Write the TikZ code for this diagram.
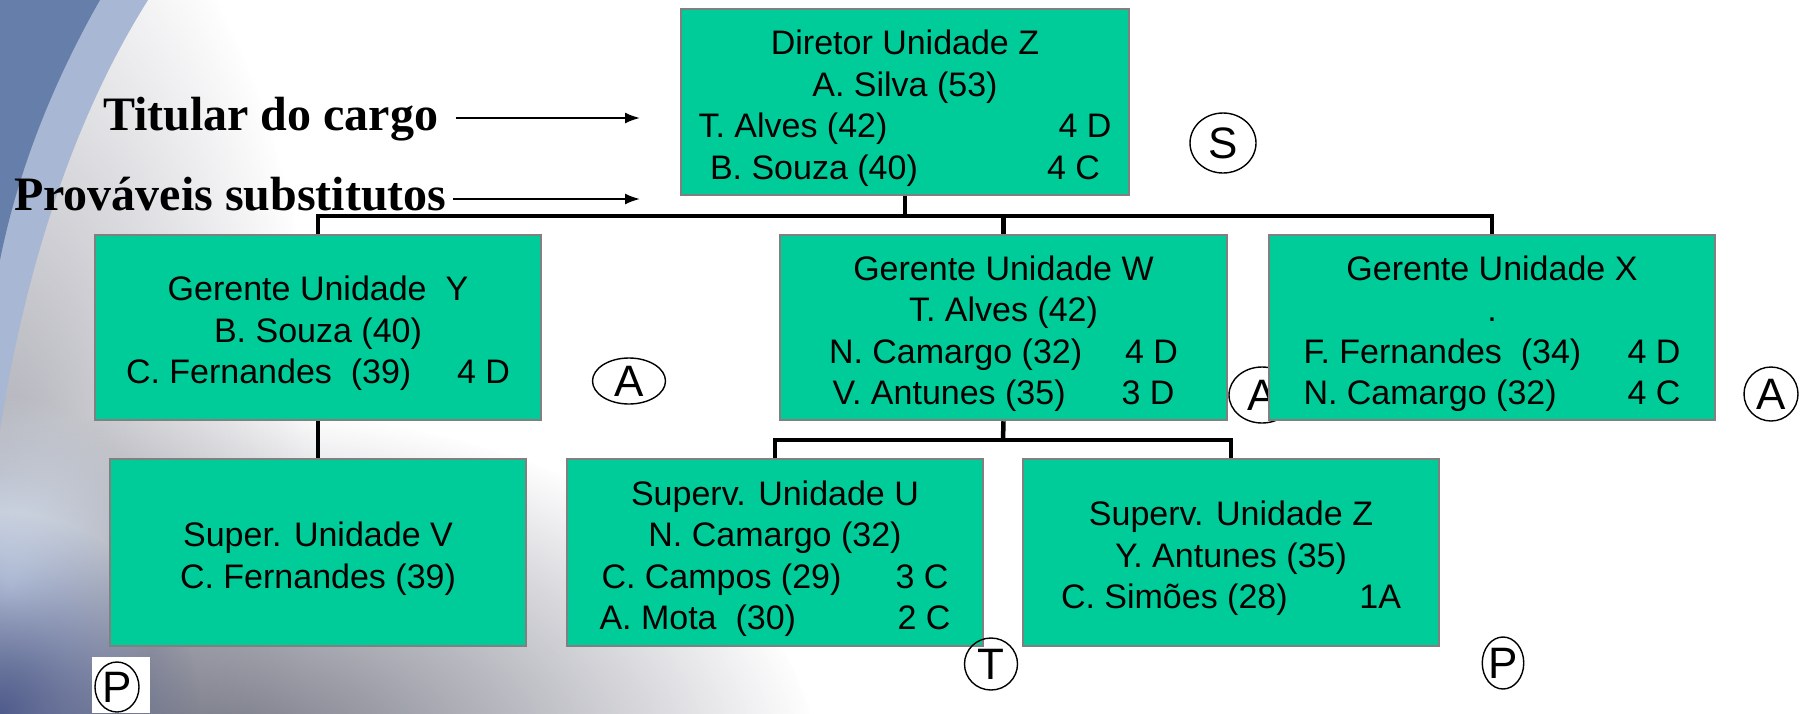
\documentclass[tikz,border=0pt]{standalone}
\usepackage{fontspec}
\setmainfont{Liberation Sans}
\newfontfamily\lblfont{Liberation Serif}
\usetikzlibrary{arrows.meta,shapes.geometric,fadings}
\definecolor{boxgreen}{RGB}{0,204,153}
\definecolor{boxedge}{RGB}{128,128,128}
\definecolor{swdark}{RGB}{102,126,170}
\definecolor{swlight}{RGB}{168,184,212}
\definecolor{bggray}{RGB}{112,114,128}
\definecolor{glow}{RGB}{222,234,250}
\definecolor{cornerblue}{RGB}{80,92,140}
\tikzfading[name=softglow, inner color=transparent!0, outer color=transparent!100]
\newcommand\firstgap{\rule{0pt}{37pt}}
\begin{document}
\begin{tikzpicture}[x=1pt,y=-1pt,
  orgbox/.style={draw=boxedge, line width=2.5pt, fill=boxgreen, inner sep=0pt,
    align=center, font=\fontsize{34}{41.5}\selectfont},
  link/.style={line width=4.5pt, black},
  pointer/.style={line width=2pt, -{Latex[length=15pt,width=11pt]}},
  lbl/.style={inner sep=0pt, font=\lblfont\bfseries\fontsize{48}{56}\selectfont},
  badge/.style={draw, ellipse, line width=1.4pt, inner sep=0pt,
    font=\fontsize{44}{44}\selectfont}]
\useasboundingbox (0,0) rectangle (1801,713);
\fill[white] (0,0) rectangle (1801,713);
% background decoration
\begin{scope}
  \clip (0,0) rectangle (1801,713);
  \fill[bggray!55, path fading=softglow] (0,470) ellipse (320pt and 640pt);
  \fill[bggray, path fading=softglow] (220,770) ellipse (600pt and 360pt);
  \fill[glow, path fading=softglow] (10,585) ellipse (150pt and 190pt);
  \fill[cornerblue, path fading=softglow] (0,713) circle (200pt);
\end{scope}
\fill[swlight] (0,0) -- (148,0) .. controls (85,100) and (30,240) .. (0,430) -- cycle;
\fill[swdark] (0,0) -- (100,0) .. controls (60,70) and (20,160) .. (0,260) -- cycle;
% connectors and boxes
\coordinate (bus) at (905,216);
\coordinate (bus2) at (1003,440);
\node[orgbox, minimum width=448pt, minimum height=186pt] (dir) at (905,102) {\firstgap Diretor Unidade Z\\A. Silva (53)\\\makebox[413pt]{T. Alves (42)\hfill 4 D}\\\makebox[390pt]{B. Souza (40)\hfill 4 C}};
\node[orgbox, minimum width=446pt, minimum height=185pt] (gy) at (318,327.5) {\firstgap Gerente Unidade\ \ Y\\B. Souza (40)\\\makebox[384pt]{C. Fernandes\ \ (39)\hfill 4 D}};
\node[orgbox, minimum width=447pt, minimum height=185pt] (gw) at (1003.5,327.5) {\firstgap Gerente Unidade W\\T. Alves (42)\\\makebox[349pt]{N. Camargo (32)\hfill 4 D}\\\makebox[342pt]{V. Antunes (35)\hfill 3 D}};
\node[badge, minimum width=66pt, minimum height=56pt] (bA2) at (1262,395) {A};
\node[orgbox, minimum width=446pt, minimum height=185pt] (gx) at (1492,327.5) {\firstgap Gerente Unidade X\\.\\\makebox[377pt]{F. Fernandes\ \ (34)\hfill 4 D}\\\makebox[377pt]{N. Camargo (32)\hfill 4 C}};
\node[orgbox, minimum width=416pt, minimum height=187pt] (sv) at (318,552.5) {\firstgap Super. Unidade V\\C. Fernandes (39)};
\node[orgbox, minimum width=416pt, minimum height=187pt] (su) at (775,552.5) {\firstgap Superv. Unidade U\\N. Camargo (32)\\\makebox[347pt]{C. Campos (29)\hfill 3 C}\\\makebox[351pt]{A. Mota\ \ (30)\hfill 2 C}};
\node[orgbox, minimum width=416pt, minimum height=187pt] (sz) at (1231,552.5) {\firstgap Superv. Unidade Z\\Y. Antunes (35)\\\makebox[340pt]{C. Simões (28)\hfill 1A}};
\draw[link] (dir.south) -- (bus);
\draw[link] (gy.north) -- (gy.north |- bus) -- (gx.north |- bus) -- (gx.north);
\draw[link] (gw.north) -- (gw.north |- bus);
\draw[link] (gy.south) -- (sv.north);
\draw[link] (gw.south) -- (bus2);
\draw[link] (su.north) -- (su.north |- bus2) -- (sz.north |- bus2) -- (sz.north);
% badges
\node[badge, minimum width=66pt, minimum height=60pt] (bS) at (1223,143) {S};
\node[badge, minimum width=73pt, minimum height=46pt] (bA1) at (629,381) {A};
\node[badge, minimum width=54pt, minimum height=54pt] (bA3) at (1771,394) {A};
\node[badge, minimum width=53pt, minimum height=52pt] (bT) at (991,664) {T};
\node[badge, minimum width=34pt, minimum height=52pt] (bP2) at (1503,663) {P};
\node[fill=white, minimum width=58pt, minimum height=56pt, inner sep=0pt] (pbg) at (121,685) {};
\node[badge, minimum width=44pt, minimum height=50pt] (bP1) at (117,687) {P};
% labels and arrows
\node[lbl, anchor=base west] (titular) at (103,130) {Titular do cargo};
\node[lbl, anchor=base west] (provaveis) at (14,210) {Prováveis substitutos};
\coordinate (tip1) at (640,118);
\coordinate (tip2) at (640,199);
\draw[pointer] (titular.east |- tip1) ++(17,0) -- (tip1);
\draw[pointer] (provaveis.east |- tip2) ++(6,0) -- (tip2);
\end{tikzpicture}
\end{document}
